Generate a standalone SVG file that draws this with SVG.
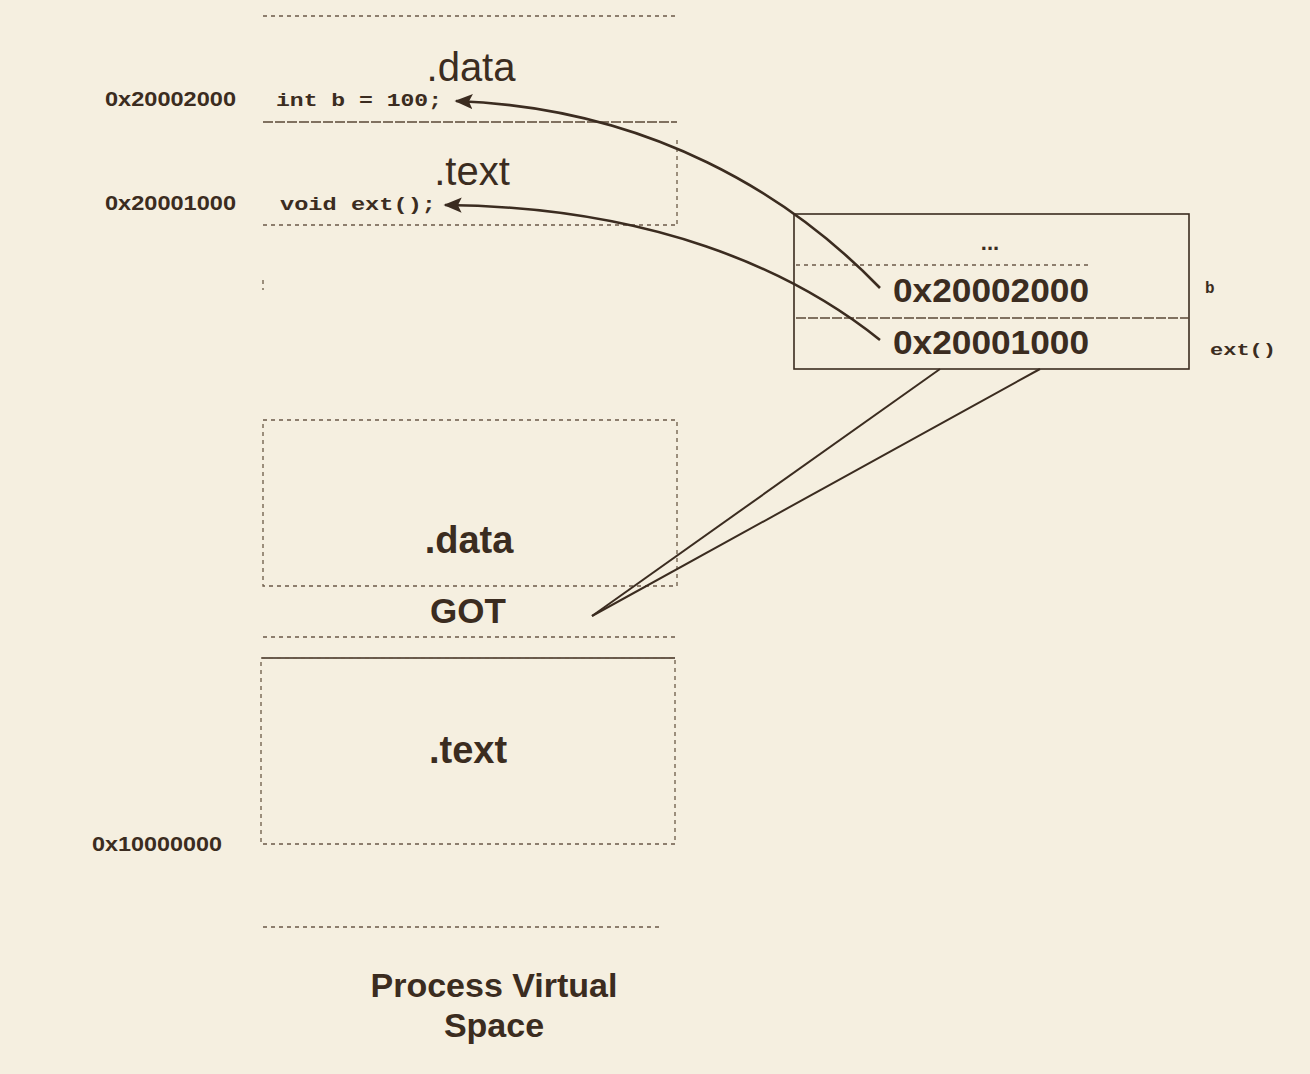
<svg xmlns="http://www.w3.org/2000/svg" width="1310" height="1074" viewBox="0 0 1310 1074">
<defs>
<style>
.ink{fill:#3b2c20}
.sans{font-family:"Liberation Sans",Arial,sans-serif}
.mono{font-family:"Liberation Mono","Courier New",monospace;font-weight:bold}
.addr{font-family:"Liberation Sans",Arial,sans-serif;font-weight:bold;font-size:20px}
.dot{stroke:#6b5a48;stroke-width:1.3;fill:none;stroke-dasharray:4 4}
.dash{stroke:#5a4836;stroke-width:1.5;fill:none;stroke-dasharray:10 2}
.solid{stroke:#3b2c20;stroke-width:1.6;fill:none}
.conn{stroke:#3b2c20;stroke-width:2.6;fill:none}
.thin{stroke:#3b2c20;stroke-width:2;fill:none}
</style>
<marker id="ah" viewBox="0 0 12 10" refX="11" refY="5" markerWidth="7" markerHeight="6" orient="auto" markerUnits="strokeWidth">
<path d="M0,0 L12,5 L0,10 L2.5,5 Z" fill="#3b2c20"/>
</marker>
</defs>
<rect width="1310" height="1074" fill="#f5efe0"/>

<g id="upper-region">
<line class="dot" x1="263" y1="16" x2="677" y2="16"/>
<text class="sans ink" x="471" y="81" font-size="40" text-anchor="middle">.data</text>
<text class="addr ink" x="105" y="106" textLength="131" lengthAdjust="spacingAndGlyphs">0x20002000</text>
<text class="mono ink" x="276" y="106" font-size="18" textLength="166" lengthAdjust="spacingAndGlyphs">int b = 100;</text>
<line class="dash" x1="263" y1="122" x2="677" y2="122"/>
<line class="dot" x1="677" y1="140" x2="677" y2="225"/>
<text class="sans ink" x="472" y="185" font-size="40" text-anchor="middle">.text</text>
<text class="addr ink" x="105" y="210" textLength="131" lengthAdjust="spacingAndGlyphs">0x20001000</text>
<text class="mono ink" x="280" y="210" font-size="18" textLength="156" lengthAdjust="spacingAndGlyphs">void ext();</text>
<line class="dot" x1="263" y1="225" x2="677" y2="225"/>
<line class="dot" x1="263" y1="280" x2="263" y2="290"/>
</g>

<g id="got-table">
<rect class="solid" x="794" y="214" width="395" height="155"/>
<line class="dot" x1="796" y1="265" x2="1090" y2="265"/>
<line class="dash" x1="796" y1="318" x2="1189" y2="318"/>
<text class="sans ink" x="990" y="250" font-size="22" font-weight="bold" text-anchor="middle">...</text>
<text class="sans ink" x="893" y="302" font-size="33" font-weight="bold" textLength="196" lengthAdjust="spacingAndGlyphs">0x20002000</text>
<text class="sans ink" x="893" y="354" font-size="33" font-weight="bold" textLength="196" lengthAdjust="spacingAndGlyphs">0x20001000</text>
<text class="mono ink" x="1205" y="293" font-size="16">b</text>
<text class="mono ink" x="1210" y="355" font-size="16" textLength="66" lengthAdjust="spacingAndGlyphs">ext()</text>
</g>

<g id="lower-data">
<rect class="dot" x="263" y="420" width="414" height="166"/>
<text class="sans ink" x="469" y="553" font-size="38" font-weight="bold" text-anchor="middle">.data</text>
</g>

<g id="got-label">
<text class="sans ink" x="468" y="623" font-size="35" font-weight="bold" text-anchor="middle">GOT</text>
</g>

<g id="lower-text">
<line class="dot" x1="263" y1="637" x2="677" y2="637"/>
<line class="solid" x1="262" y1="658" x2="675" y2="658"/>
<rect class="dot" x="261" y="658" width="414" height="186"/>
<text class="sans ink" x="468" y="763" font-size="38" font-weight="bold" text-anchor="middle">.text</text>
<text class="addr ink" x="92" y="851" textLength="130" lengthAdjust="spacingAndGlyphs">0x10000000</text>
<line class="dot" x1="263" y1="927" x2="660" y2="927"/>
</g>

<g id="caption">
<text class="sans ink" x="494" y="997" font-size="34" font-weight="bold" text-anchor="middle">Process Virtual</text>
<text class="sans ink" x="494" y="1037" font-size="34" font-weight="bold" text-anchor="middle">Space</text>
</g>

<g id="connectors">
<path class="conn" d="M880,288 C790,195 650,108 456,101" marker-end="url(#ah)"/>
<path class="conn" d="M880,340 C790,268 650,207 445,205" marker-end="url(#ah)"/>
<line class="thin" x1="940" y1="369" x2="592" y2="616"/>
<line class="thin" x1="1040" y1="369" x2="592" y2="616"/>
</g>
</svg>
